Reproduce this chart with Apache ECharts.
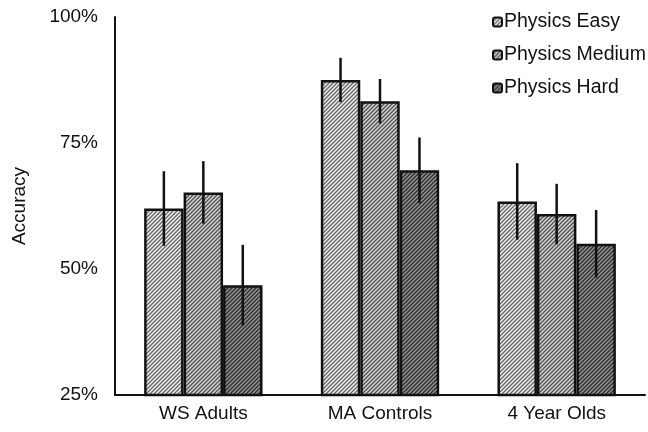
<!DOCTYPE html>
<html><head><meta charset="utf-8">
<script src="https://cdn.jsdelivr.net/npm/echarts@6/dist/echarts.min.js"></script>
<style>html,body{margin:0;padding:0;background:#fff}#c{width:648px;height:432px}</style>
</head><body><div id="c"></div>
<script>
var categories = ['WS Adults', 'MA Controls', '4 Year Olds'];
var seriesNames = ['Physics Easy', 'Physics Medium', 'Physics Hard'];
var easyValues = [62.0, 87.5, 63.4];
var mediumValues = [65.2, 83.3, 60.9];
var hardValues = [46.8, 69.6, 55.0];
var easyErrors = [7.4, 4.4, 7.6];
var mediumErrors = [6.2, 4.4, 6.0];
var hardErrors = [8.0, 6.5, 6.7];
var yTicks = [25, 50, 75, 100];

function hatch(bg, fg) {
  var s = 4;
  var c = document.createElement('canvas');
  c.width = s; c.height = s;
  var ctx = c.getContext('2d');
  ctx.fillStyle = bg; ctx.fillRect(0, 0, s, s);
  ctx.strokeStyle = fg; ctx.lineWidth = 1.3;
  ctx.beginPath();
  ctx.moveTo(-1, s + 1); ctx.lineTo(s + 1, -1);
  ctx.moveTo(-1, 1); ctx.lineTo(1, -1);
  ctx.moveTo(s - 1, s + 1); ctx.lineTo(s + 1, s - 1);
  ctx.stroke();
  return { image: c, repeat: 'repeat' };
}
var fills = [hatch('#eeeeee', '#666666'), hatch('#d4d4d4', '#505050'), hatch('#949494', '#2c2c2c')];
var values = [easyValues, mediumValues, hardValues];
var errors = [easyErrors, mediumErrors, hardErrors];
var catGap = 0.33;

var chart = echarts.init(document.getElementById('c'), null, { renderer: 'canvas' });
var series = [];
seriesNames.forEach(function (name, i) {
  series.push({
    name: name, type: 'bar', data: values[i],
    barGap: '0%', barCategoryGap: (catGap * 100) + '%',
    itemStyle: { color: fills[i], borderColor: '#111', borderWidth: 2.5 },
    emphasis: { disabled: true }
  });
});
seriesNames.forEach(function (name, i) {
  series.push({
    type: 'custom', z: 10, silent: true,
    data: values[i].map(function (v, k) { return [k, v - errors[i][k], v + errors[i][k]]; }),
    renderItem: function (params, api) {
      var k = api.value(0);
      var catW = api.size([1, 0])[0];
      var bw = catW * (1 - catGap) / 3;
      var lo = api.coord([k, api.value(1)]);
      var hi = api.coord([k, api.value(2)]);
      var x = lo[0] + (i - 1) * bw;
      return { type: 'line', shape: { x1: x, y1: lo[1], x2: x, y2: hi[1] },
        style: { stroke: '#111', lineWidth: 2.5 } };
    }
  });
});

chart.setOption({
  animation: false,
  textStyle: { fontFamily: 'Liberation Sans, Arial, sans-serif' },
  grid: { left: 115, right: 3, top: 17, bottom: 37, containLabel: false },
  legend: {
    data: seriesNames, orient: 'vertical', left: 487, top: 7,
    itemWidth: 9, itemHeight: 9, itemGap: 13,
    textStyle: { fontSize: 19.5, color: '#111', padding: [0, 0, 0, -3] },
    selectedMode: false
  },
  xAxis: {
    type: 'category', data: categories,
    axisLine: { lineStyle: { color: '#111', width: 2 } },
    axisTick: { show: false },
    axisLabel: { fontSize: 19, color: '#111', margin: 9 }
  },
  yAxis: {
    type: 'value', min: yTicks[0], max: yTicks[yTicks.length - 1], interval: 25,
    name: 'Accuracy', nameLocation: 'middle', nameRotate: 90, nameGap: 86,
    nameTextStyle: { fontSize: 19, color: '#111' },
    axisLine: { show: true, lineStyle: { color: '#111', width: 2 } },
    axisTick: { show: false },
    splitLine: { show: false },
    axisLabel: { fontSize: 19, color: '#111', margin: 17, padding: [6, 0, 0, 0], formatter: '{value}%' }
  },
  series: series
});
</script></body></html>
